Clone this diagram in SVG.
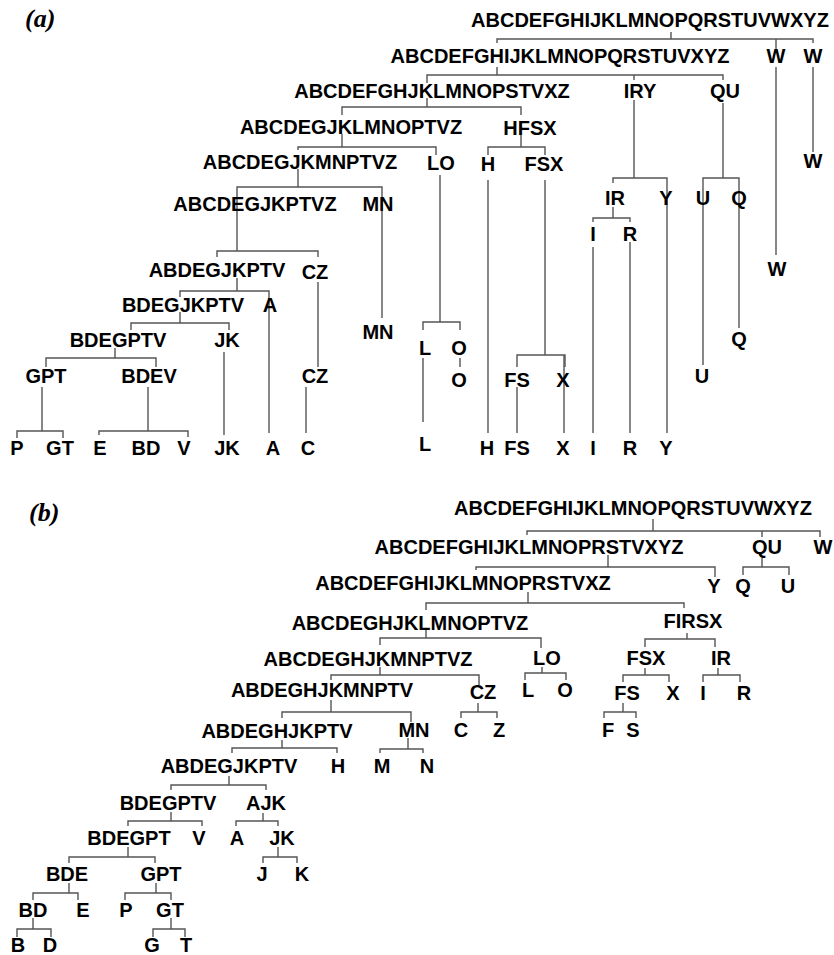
<svg xmlns="http://www.w3.org/2000/svg" width="834" height="955" viewBox="0 0 834 955">
<style>
.e{fill:none;stroke:#555;stroke-width:1.4}
.n{font-family:"Liberation Sans",Arial,sans-serif;font-weight:bold;font-size:20px;fill:#000;text-anchor:middle}
.p{font-family:"Liberation Serif","Times New Roman",serif;font-weight:bold;font-style:italic;font-size:26px;fill:#000}
</style>
<rect width="834" height="955" fill="#fff"/>
<text class="p" x="25" y="27">(a)</text>
<text class="p" x="29" y="521">(b)</text>
<g id="connectors">
<path class="e" d="M671,32V39M497,43V39H813V43M776,39V49"/>
<path class="e" d="M497,67V75M427,83V75H723V80M634,75V80"/>
<path class="e" d="M776,67V255M813,67V152"/>
<path class="e" d="M427,98V107M342,115V107H521V115"/>
<path class="e" d="M342,134V147M298,150V147H436V155"/>
<path class="e" d="M521,135V147M488,155V147H545V155"/>
<path class="e" d="M298,169V187M237,251V187H382V318"/>
<path class="e" d="M440,175V322M423,330V322H460V330"/>
<path class="e" d="M488,180V433"/>
<path class="e" d="M545,180V355M517,367V355H565V367"/>
<path class="e" d="M634,100V178M613,183V178H667V433"/>
<path class="e" d="M723,103V178M703,365V178H739V328"/>
<path class="e" d="M217,257V251H318V257M318,282V367"/>
<path class="e" d="M613,207V218M593,222V218H630V222"/>
<path class="e" d="M593,247V433M630,242V433"/>
<path class="e" d="M423,358V422M460,358V367"/>
<path class="e" d="M517,387V433M564,355V433"/>
<path class="e" d="M237,278V291M180,297V291H269V433"/>
<path class="e" d="M180,312V323M131,330V323H229V330"/>
<path class="e" d="M115,348V358M46,367V358H156V367"/>
<path class="e" d="M224,352V435"/>
<path class="e" d="M42,387V431M17,438V431H63V438"/>
<path class="e" d="M148,387V431M99,435V431H188V437"/>
<path class="e" d="M306,387V433"/>
<path class="e" d="M653,519V531M527,535V531H820V537M762,531V537"/>
<path class="e" d="M608,555V567M476,570V567H715V577"/>
<path class="e" d="M762,558V567M743,575V567H789V575"/>
<path class="e" d="M528,592V603M426,610V603H684V608"/>
<path class="e" d="M426,630V638M380,645V638H541V648"/>
<path class="e" d="M687,633V639M645,647V639H715V647"/>
<path class="e" d="M380,667V675M331,680V675H479V685"/>
<path class="e" d="M542,667V673M525,680V673H566V680"/>
<path class="e" d="M645,668V675M623,682V675H669V682"/>
<path class="e" d="M718,668V675M703,682V675H740V682"/>
<path class="e" d="M331,700V712M282,718V712H411V722"/>
<path class="e" d="M478,703V712M461,718V712H497V718"/>
<path class="e" d="M623,703V712M604,718V712H636V718"/>
<path class="e" d="M282,740V748M232,753V748H337V753"/>
<path class="e" d="M408,738V749M380,753V749H423V753"/>
<path class="e" d="M229,776V785M171,790V785H266V790"/>
<path class="e" d="M171,812V821M128,826V821H202V826"/>
<path class="e" d="M263,813V821M236,826V821H278V826"/>
<path class="e" d="M128,847V857M69,863V857H155V863"/>
<path class="e" d="M278,847V857M263,863V857H297V863"/>
<path class="e" d="M69,883V893M33,900V893H78V900"/>
<path class="e" d="M156,883V893M125,900V893H171V900"/>
<path class="e" d="M33,918V929M17,937V929H51V937"/>
<path class="e" d="M171,918V929M153,937V929H185V937"/>
</g>
<g id="a-nodes">
<g id="a0"><text class="n" x="650" y="27">ABCDEFGHIJKLMNOPQRSTUVWXYZ</text></g>
<g id="a1"><text class="n" x="560" y="63">ABCDEFGHIJKLMNOPQRSTUVXYZ</text></g>
<g id="a-W1"><text class="n" x="776" y="63">W</text></g>
<g id="a-W2"><text class="n" x="813" y="63">W</text></g>
<g id="a2"><text class="n" x="432" y="98">ABCDEFGHJKLMNOPSTVXZ</text></g>
<g id="a-IRY"><text class="n" x="640" y="98">IRY</text></g>
<g id="a-QU"><text class="n" x="725" y="98">QU</text></g>
<g id="a3"><text class="n" x="351" y="134">ABCDEGJKLMNOPTVZ</text></g>
<g id="a-HFSX"><text class="n" x="530" y="135">HFSX</text></g>
<g id="a4"><text class="n" x="300" y="169">ABCDEGJKMNPTVZ</text></g>
<g id="a-LO"><text class="n" x="441" y="170">LO</text></g>
<g id="a-H"><text class="n" x="488" y="171">H</text></g>
<g id="a-FSX"><text class="n" x="544" y="171">FSX</text></g>
<g id="a-W2b"><text class="n" x="813" y="168">W</text></g>
<g id="a5"><text class="n" x="255" y="211">ABCDEGJKPTVZ</text></g>
<g id="a-MN"><text class="n" x="378" y="211">MN</text></g>
<g id="a-IR"><text class="n" x="615" y="205">IR</text></g>
<g id="a-Y"><text class="n" x="666" y="205">Y</text></g>
<g id="a-U"><text class="n" x="703" y="205">U</text></g>
<g id="a-Q"><text class="n" x="739" y="205">Q</text></g>
<g id="a-I"><text class="n" x="593" y="241">I</text></g>
<g id="a-R"><text class="n" x="630" y="241">R</text></g>
<g id="a-W1b"><text class="n" x="777" y="276">W</text></g>
<g id="a6"><text class="n" x="217" y="277">ABDEGJKPTV</text></g>
<g id="a-CZ"><text class="n" x="315" y="279">CZ</text></g>
<g id="a7"><text class="n" x="183" y="312">BDEGJKPTV</text></g>
<g id="a-A"><text class="n" x="270" y="312">A</text></g>
<g id="a-MNb"><text class="n" x="378" y="339">MN</text></g>
<g id="a8"><text class="n" x="118" y="347">BDEGPTV</text></g>
<g id="a-JK"><text class="n" x="227" y="347">JK</text></g>
<g id="a-Qb"><text class="n" x="739" y="346">Q</text></g>
<g id="a-L"><text class="n" x="425" y="355">L</text></g>
<g id="a-O"><text class="n" x="459" y="355">O</text></g>
<g id="a-GPT"><text class="n" x="46" y="383">GPT</text></g>
<g id="a-BDEV"><text class="n" x="149" y="383">BDEV</text></g>
<g id="a-CZb"><text class="n" x="315" y="383">CZ</text></g>
<g id="a-Ub"><text class="n" x="702" y="383">U</text></g>
<g id="a-Ob"><text class="n" x="459" y="387">O</text></g>
<g id="a-FS"><text class="n" x="517" y="387">FS</text></g>
<g id="a-X"><text class="n" x="563" y="387">X</text></g>
<g id="a-Lb"><text class="n" x="425" y="451">L</text></g>
<g id="a-P"><text class="n" x="17" y="455">P</text></g>
<g id="a-GT"><text class="n" x="60" y="455">GT</text></g>
<g id="a-E"><text class="n" x="100" y="455">E</text></g>
<g id="a-BD"><text class="n" x="146" y="455">BD</text></g>
<g id="a-V"><text class="n" x="184" y="455">V</text></g>
<g id="a-JKb"><text class="n" x="227" y="455">JK</text></g>
<g id="a-Ab"><text class="n" x="273" y="455">A</text></g>
<g id="a-C"><text class="n" x="308" y="455">C</text></g>
<g id="a-Hb"><text class="n" x="487" y="455">H</text></g>
<g id="a-FSb"><text class="n" x="517" y="455">FS</text></g>
<g id="a-Xb"><text class="n" x="563" y="455">X</text></g>
<g id="a-Ib"><text class="n" x="593" y="455">I</text></g>
<g id="a-Rb"><text class="n" x="630" y="455">R</text></g>
<g id="a-Yb"><text class="n" x="666" y="455">Y</text></g>
</g>
<g id="b-nodes">
<g id="b0"><text class="n" x="633" y="515">ABCDEFGHIJKLMNOPQRSTUVWXYZ</text></g>
<g id="b1"><text class="n" x="529" y="554">ABCDEFGHIJKLMNOPRSTVXYZ</text></g>
<g id="b-QU"><text class="n" x="767" y="554">QU</text></g>
<g id="b-W"><text class="n" x="823" y="554">W</text></g>
<g id="b2"><text class="n" x="463" y="590">ABCDEFGHIJKLMNOPRSTVXZ</text></g>
<g id="b-Y"><text class="n" x="714" y="593">Y</text></g>
<g id="b-Q"><text class="n" x="743" y="593">Q</text></g>
<g id="b-U"><text class="n" x="788" y="593">U</text></g>
<g id="b3"><text class="n" x="410" y="630">ABCDEGHJKLMNOPTVZ</text></g>
<g id="b-FIRSX"><text class="n" x="693" y="628">FIRSX</text></g>
<g id="b4"><text class="n" x="368" y="666">ABCDEGHJKMNPTVZ</text></g>
<g id="b-LO"><text class="n" x="547" y="665">LO</text></g>
<g id="b-FSX"><text class="n" x="646" y="665">FSX</text></g>
<g id="b-IR"><text class="n" x="721" y="665">IR</text></g>
<g id="b5"><text class="n" x="322" y="697">ABDEGHJKMNPTV</text></g>
<g id="b-CZ"><text class="n" x="483" y="699">CZ</text></g>
<g id="b-L"><text class="n" x="528" y="697">L</text></g>
<g id="b-O"><text class="n" x="565" y="697">O</text></g>
<g id="b-FS"><text class="n" x="627" y="700">FS</text></g>
<g id="b-X"><text class="n" x="673" y="700">X</text></g>
<g id="b-I"><text class="n" x="703" y="700">I</text></g>
<g id="b-R"><text class="n" x="744" y="700">R</text></g>
<g id="b6"><text class="n" x="277" y="738">ABDEGHJKPTV</text></g>
<g id="b-MN"><text class="n" x="414" y="737">MN</text></g>
<g id="b-C"><text class="n" x="461" y="737">C</text></g>
<g id="b-Z"><text class="n" x="499" y="737">Z</text></g>
<g id="b-F"><text class="n" x="608" y="737">F</text></g>
<g id="b-S"><text class="n" x="633" y="737">S</text></g>
<g id="b7"><text class="n" x="229" y="773">ABDEGJKPTV</text></g>
<g id="b-H"><text class="n" x="338" y="773">H</text></g>
<g id="b-M"><text class="n" x="382" y="773">M</text></g>
<g id="b-N"><text class="n" x="427" y="773">N</text></g>
<g id="b8"><text class="n" x="168" y="810">BDEGPTV</text></g>
<g id="b-AJK"><text class="n" x="266" y="810">AJK</text></g>
<g id="b9"><text class="n" x="129" y="845">BDEGPT</text></g>
<g id="b-V"><text class="n" x="199" y="845">V</text></g>
<g id="b-A"><text class="n" x="237" y="845">A</text></g>
<g id="b-JK"><text class="n" x="282" y="845">JK</text></g>
<g id="b-BDE"><text class="n" x="67" y="881">BDE</text></g>
<g id="b-GPT"><text class="n" x="161" y="881">GPT</text></g>
<g id="b-J"><text class="n" x="262" y="881">J</text></g>
<g id="b-K"><text class="n" x="302" y="881">K</text></g>
<g id="b-BD"><text class="n" x="33" y="917">BD</text></g>
<g id="b-E"><text class="n" x="83" y="917">E</text></g>
<g id="b-P"><text class="n" x="126" y="917">P</text></g>
<g id="b-GT"><text class="n" x="170" y="917">GT</text></g>
<g id="b-B"><text class="n" x="18" y="952">B</text></g>
<g id="b-D"><text class="n" x="50" y="952">D</text></g>
<g id="b-G"><text class="n" x="152" y="952">G</text></g>
<g id="b-T"><text class="n" x="186" y="952">T</text></g>
</g>
</svg>
